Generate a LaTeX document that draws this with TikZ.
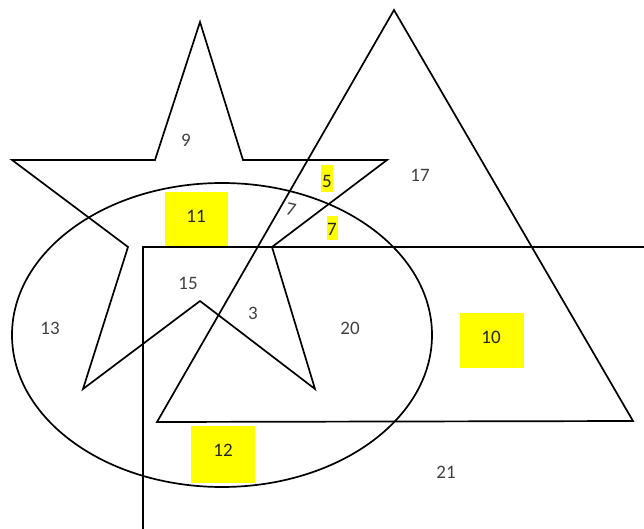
\documentclass[tikz,border=0pt]{standalone}
\usepackage{fontspec}
\setmainfont{Carlito}
\definecolor{lbl}{HTML}{404040}
\definecolor{hl}{HTML}{FFFF00}
\tikzset{
  shape line/.style={draw=black, line width=1.7pt, line join=miter},
  lab/.style={text=lbl, font=\fontsize{19}{19}\selectfont, inner sep=0pt},
}
\begin{document}
\begin{tikzpicture}[x=1pt,y=-1pt]
\useasboundingbox (0,0) rectangle (644,529);
% star
\draw[shape line] (200,22) -- (243,160) -- (387,160) -- (272,247) -- (315,389) -- (200,301)
  -- (83,389) -- (128,247) -- (12,160) -- (155,160) -- cycle;
% triangle
\draw[shape line] (394,10) -- (633,421) -- (157,422) -- cycle;
% ellipse
\draw[shape line] (222,335) ellipse [x radius=210, y radius=152];
% rectangle (open)
\draw[shape line] (646,247) -- (143,247) -- (143,531);
% highlight boxes
\fill[hl] (165,192) rectangle (228,246);
\fill[hl] (460,313) rectangle (524,368);
\fill[hl] (191,426) rectangle (255,483);
\fill[hl] (321,165) rectangle (333,192);
\fill[hl] (327,216) rectangle (338,240);
% labels
\node[lab] (n9) at (186,140) {9};
\node[lab] (n17) at (420,175) {17};
\node[lab, text=black!85] (n5) at (327,181) {5};
\node[lab, rotate=-12] (n7a) at (291,210) {7};
\node[lab, text=black!85] (n7b) at (332,229) {7};
\node[lab, text=black!85] (n11) at (196,216) {11};
\node[lab] (n15) at (188,283) {15};
\node[lab] (n3) at (253,313) {3};
\node[lab] (n13) at (50,328) {13};
\node[lab] (n20) at (350,328) {20};
\node[lab, text=black!85] (n10) at (491,337) {10};
\node[lab, text=black!85] (n12) at (223,450) {12};
\node[lab] (n21) at (446,472) {21};
\end{tikzpicture}
\end{document}
